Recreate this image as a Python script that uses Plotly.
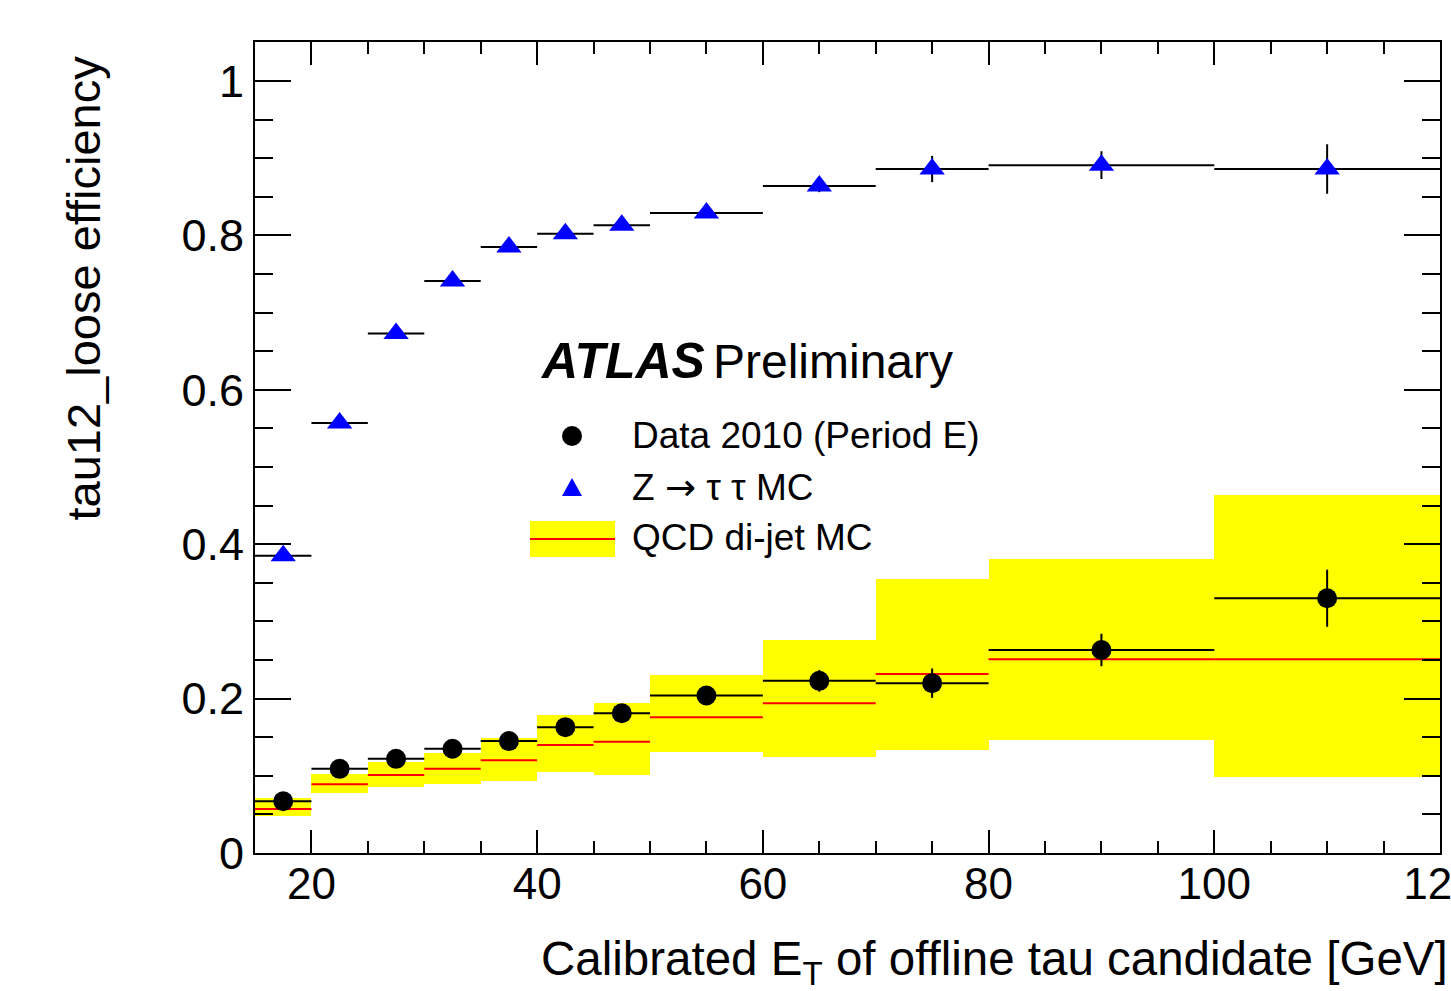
import plotly.graph_objects as go

# Transverse-energy bins [GeV]
bin_lo = [15, 20, 25, 30, 35, 40, 45, 50, 60, 70, 80, 100]
bin_hi = [20, 25, 30, 35, 40, 45, 50, 60, 70, 80, 100, 120]

# Data 2010 (Period E) efficiency and statistical errors
data_eff = [0.067, 0.109, 0.122, 0.135, 0.145, 0.163, 0.181, 0.204, 0.223, 0.220, 0.263, 0.330]
data_err = [0.004, 0.005, 0.005, 0.006, 0.006, 0.007, 0.008, 0.008, 0.014, 0.019, 0.021, 0.037]

# Z -> tau tau MC efficiency and errors
ztt_eff = [0.385, 0.557, 0.673, 0.741, 0.785, 0.802, 0.813, 0.829, 0.864, 0.886, 0.891, 0.886]
ztt_err = [0.004, 0.004, 0.004, 0.004, 0.004, 0.004, 0.004, 0.005, 0.008, 0.017, 0.018, 0.032]

# QCD di-jet MC: central value and uncertainty band edges
qcd_eff = [0.057, 0.089, 0.101, 0.109, 0.120, 0.140, 0.144, 0.176, 0.194, 0.232, 0.251, 0.251]
qcd_lo = [0.048, 0.078, 0.086, 0.089, 0.093, 0.105, 0.101, 0.131, 0.124, 0.133, 0.146, 0.098]
qcd_hi = [0.071, 0.102, 0.118, 0.130, 0.149, 0.179, 0.194, 0.231, 0.276, 0.355, 0.381, 0.464]

centers = [(a + b) / 2 for a, b in zip(bin_lo, bin_hi)]
widths = [b - a for a, b in zip(bin_lo, bin_hi)]
half_w = [w / 2 for w in widths]

FONT = "Liberation Sans, Arial, Helvetica, sans-serif"
W, H = 1451, 991
ML, MR, MT, MB = 255, 11, 42, 138
PW, PH = W - ML - MR, H - MT - MB


def pxx(x):
    return (x - ML) / PW


def pxy(y):
    return (H - MB - y) / PH


fig = go.Figure()

# QCD uncertainty band
fig.add_trace(go.Bar(
    x=centers, width=widths, base=qcd_lo,
    y=[h - l for h, l in zip(qcd_hi, qcd_lo)],
    marker=dict(color="#ffff00", line=dict(width=0)),
    showlegend=False, hoverinfo="skip",
))

# QCD central value as horizontal red segments
fig.add_trace(go.Scatter(
    x=centers, y=qcd_eff, mode="markers",
    marker=dict(size=1, color="rgba(0,0,0,0)"),
    error_x=dict(type="data", array=half_w, color="#ff0000", thickness=2, width=0),
    showlegend=False, hoverinfo="skip",
))

# Data points
fig.add_trace(go.Scatter(
    x=centers, y=data_eff, mode="markers",
    marker=dict(symbol="circle", size=20, color="black"),
    error_x=dict(type="data", array=half_w, color="black", thickness=2, width=0),
    error_y=dict(type="data", array=data_err, color="black", thickness=2, width=0),
    showlegend=False,
))

# Z -> tau tau MC points
fig.add_trace(go.Scatter(
    x=centers, y=ztt_eff, mode="markers",
    marker=dict(symbol="triangle-up", size=22, color="#0000ff"),
    error_x=dict(type="data", array=half_w, color="black", thickness=2, width=0),
    error_y=dict(type="data", array=ztt_err, color="black", thickness=2, width=0),
    showlegend=False,
))

shapes = []
# Legend keys
cx, r = 572, 10
shapes.append(dict(type="circle", xref="paper", yref="paper",
                   x0=pxx(cx - r), x1=pxx(cx + r), y0=pxy(436 + r), y1=pxy(436 - r),
                   fillcolor="black", line=dict(width=0)))
ty = 488
shapes.append(dict(type="path", xref="paper", yref="paper",
                   path=f"M {pxx(cx - 10)} {pxy(ty + 8)} L {pxx(cx + 10)} {pxy(ty + 8)} L {pxx(cx)} {pxy(ty - 10)} Z",
                   fillcolor="#0000ff", line=dict(width=0)))
shapes.append(dict(type="rect", xref="paper", yref="paper",
                   x0=pxx(530), x1=pxx(615), y0=pxy(557), y1=pxy(521),
                   fillcolor="#ffff00", line=dict(width=0), layer="above"))
shapes.append(dict(type="line", xref="paper", yref="paper",
                   x0=pxx(530), x1=pxx(615), y0=pxy(539), y1=pxy(539),
                   line=dict(color="#ff0000", width=2)))

annotations = [
    dict(text="<b><i>ATLAS</i></b>", x=pxx(538), y=pxy(361), xanchor="left", yanchor="middle",
         font=dict(size=50, family=FONT, color="black")),
    dict(text="Preliminary", x=pxx(711), y=pxy(361), xanchor="left", yanchor="middle",
         font=dict(size=48, family=FONT, color="black")),
    dict(text="Data 2010 (Period E)", x=pxx(630), y=pxy(435), xanchor="left", yanchor="middle",
         font=dict(size=37, family=FONT, color="black")),
    dict(text="Z <span style='font-family:DejaVu Sans'>→</span> τ τ MC", x=pxx(630), y=pxy(488),
         xanchor="left", yanchor="middle",
         font=dict(size=37, family=FONT, color="black")),
    dict(text="QCD di-jet MC", x=pxx(630), y=pxy(537), xanchor="left", yanchor="middle",
         font=dict(size=37, family=FONT, color="black")),
    dict(text="Calibrated E<sub>T</sub> of offline tau candidate [GeV]",
         x=pxx(1450), y=pxy(962), xanchor="right", yanchor="middle",
         font=dict(size=47.5, family=FONT, color="black")),
    dict(text="tau12_loose efficiency", textangle=-90,
         x=pxx(83), y=pxy(54), xanchor="center", yanchor="top",
         font=dict(size=47, family=FONT, color="black")),
]
for a in annotations:
    a.update(xref="paper", yref="paper", showarrow=False)

fig.update_layout(
    width=W, height=H,
    margin=dict(l=ML, r=MR, t=MT, b=MB, pad=0, autoexpand=False),
    paper_bgcolor="white", plot_bgcolor="white",
    barmode="overlay", bargap=0,
    showlegend=False,
    shapes=shapes, annotations=annotations,
    font=dict(family=FONT, color="black"),
)

fig.update_xaxes(
    range=[15, 120], tickmode="linear", tick0=0, dtick=20,
    ticks="inside", ticklen=23, tickwidth=2, tickcolor="black",
    minor=dict(ticks="inside", ticklen=12, tickwidth=2, tickcolor="black", dtick=5),
    showline=True, linewidth=2, linecolor="black", mirror="ticks",
    showgrid=False, zeroline=False, automargin=False,
    tickfont=dict(size=44, family=FONT, color="black"),
    ticklabeloverflow="allow", ticklabelstandoff=-9,
)
fig.update_yaxes(
    range=[0, 1.0505], tickmode="array",
    tickvals=[0, 0.2, 0.4, 0.6, 0.8, 1.0], ticktext=["0", "0.2", "0.4", "0.6", "0.8", "1"],
    ticks="inside", ticklen=36, tickwidth=2, tickcolor="black",
    minor=dict(ticks="inside", ticklen=18, tickwidth=2, tickcolor="black", dtick=0.05, tick0=0),
    showline=True, linewidth=2, linecolor="black", mirror="ticks",
    showgrid=False, zeroline=False, automargin=False,
    tickfont=dict(size=45, family=FONT, color="black"),
)

fig.write_html("out.html")
